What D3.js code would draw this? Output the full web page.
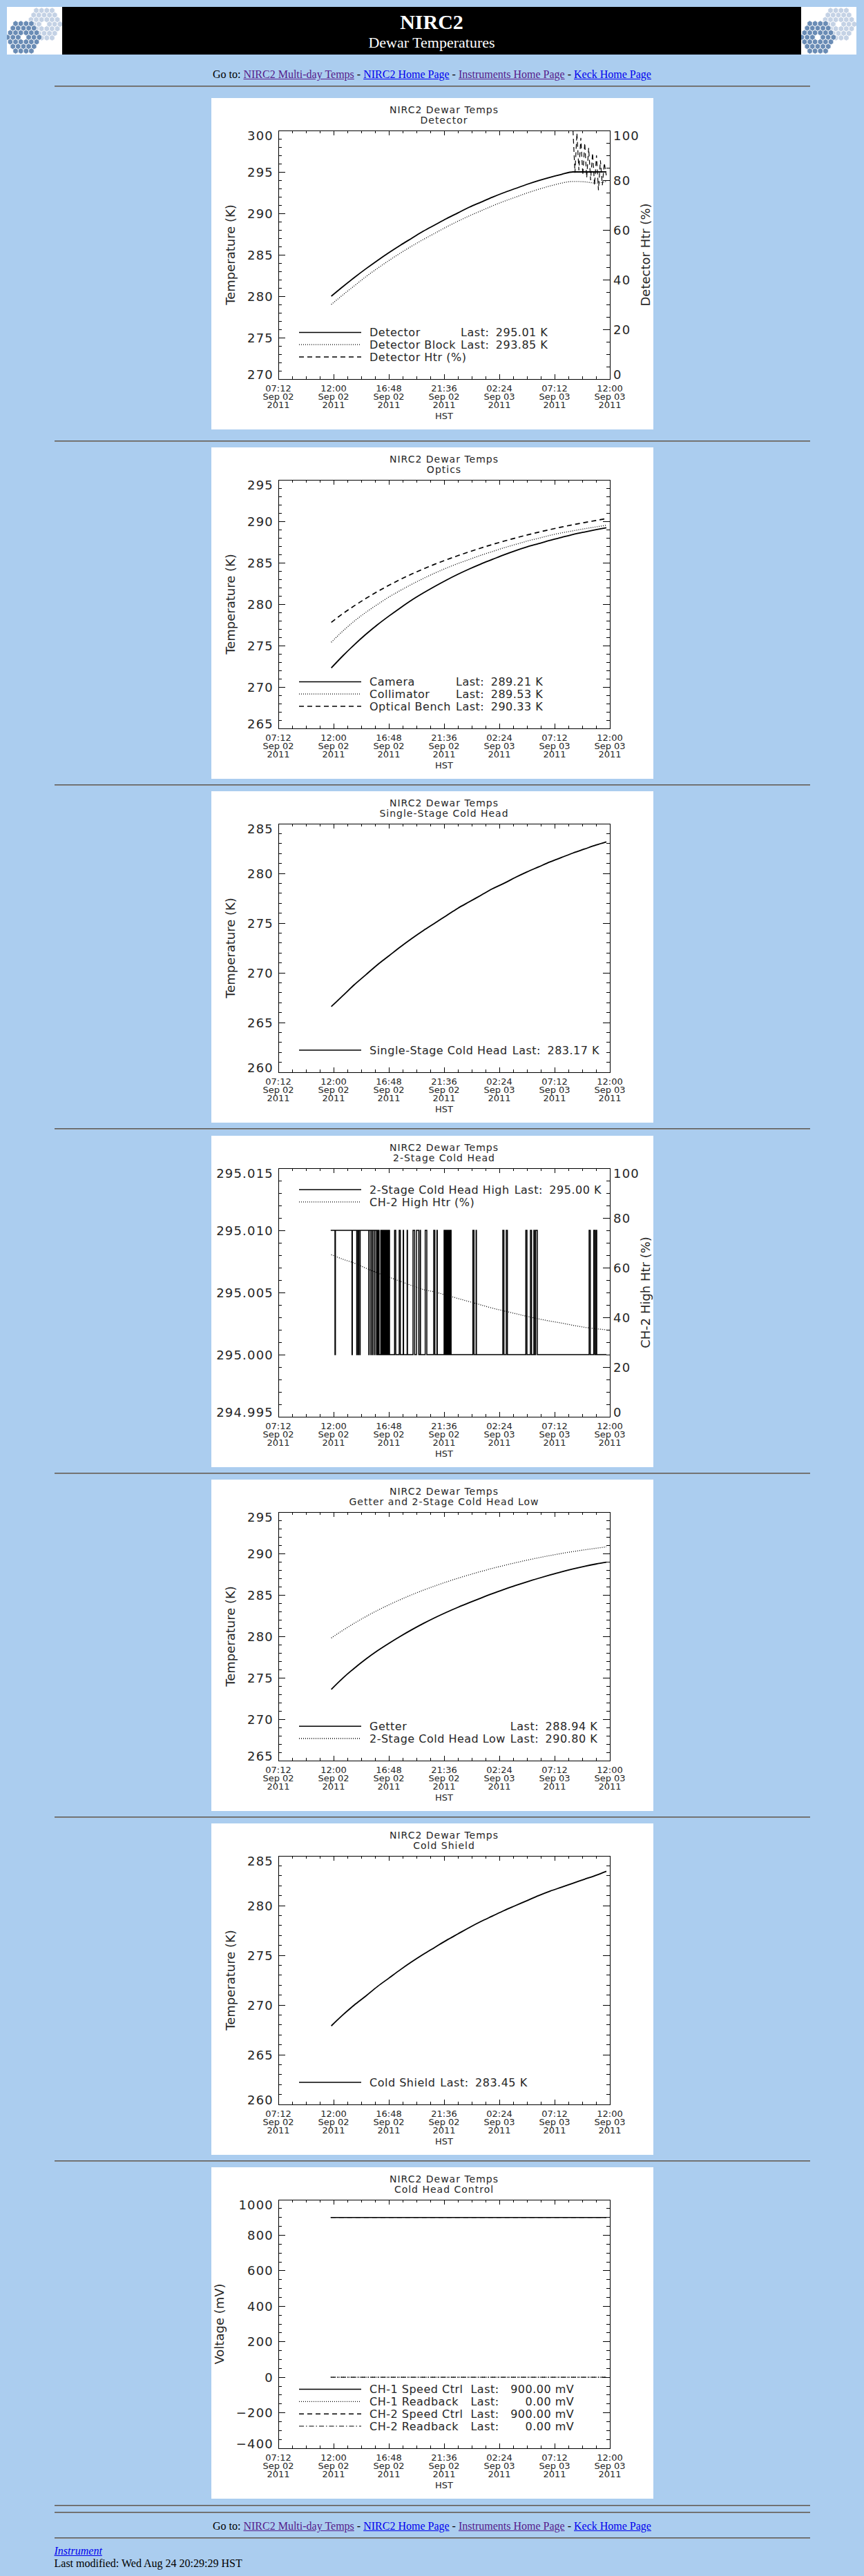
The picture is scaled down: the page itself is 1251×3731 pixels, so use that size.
<!DOCTYPE html>
<html>
<head>
<meta charset="utf-8">
<title>NIRC2 Dewar Temperatures</title>
<script src="https://cdn.jsdelivr.net/npm/d3@7"></script>
<style>
  body { margin: 0; width: 1251px; background: #abcdef; color: #000;
         font-family: "Liberation Serif", "Times New Roman", serif; font-size: 16px; }
  #hdr { margin: 10px 10px 0; height: 69px; display: flex; }
  #hdr svg { display: block; }
  .goto { text-align: center; height: 20px; line-height: 20px; white-space: nowrap; }
  .goto a, #foot a { text-decoration: underline; }
  a.lnk { color: #0000ee; }
  a.vis { color: #551a8b; }
  hr { box-sizing: content-box; width: 1094px; height: 0; border: 0;
       border-top: 1px solid #5c5c5c; border-bottom: 1px solid #8a8a8a; margin: 8.15px auto; }
  svg.panel { display: block; margin: 0 auto; }
  #foot { margin: 9.5px 0 0 78.5px; line-height: 18px; }
</style>
</head>
<body>
<div id="hdr"></div>
<div class="goto" style="margin-top:19px">Go to: <a class="vis" href="#">NIRC2 Multi-day Temps</a> - <a class="lnk" href="#">NIRC2 Home Page</a> - <a class="vis" href="#">Instruments Home Page</a> - <a class="lnk" href="#">Keck Home Page</a></div>
<hr style="margin:6px auto 16px">
<div id="charts"></div>
<hr>
<hr>
<div class="goto" style="margin-top:9.2px">Go to: <a class="vis" href="#">NIRC2 Multi-day Temps</a> - <a class="lnk" href="#">NIRC2 Home Page</a> - <a class="vis" href="#">Instruments Home Page</a> - <a class="lnk" href="#">Keck Home Page</a></div>
<hr style="margin:6px auto 0">
<div id="foot"><a class="lnk" href="#"><i>Instrument</i></a><br>Last modified: Wed Aug 24 20:29:29 HST</div>

<script>
// DATA (hours after 07:12 HST Sep 02 2011)
const sampleHours = [4.6, 5.6, 6.6, 7.6, 8.6, 9.6, 10.6, 11.6, 12.6, 13.6, 14.6, 15.6, 16.6,
                     17.6, 18.6, 19.6, 20.6, 21.6, 22.6, 23.6, 24.6, 25.6, 26.6, 27.6, 28.5];

// Detector
const detector      = [280.0, 281.15, 282.25, 283.3, 284.3, 285.25, 286.15, 287.0, 287.85, 288.6, 289.35, 290.05, 290.75,
                       291.35, 291.95, 292.5, 293.0, 293.5, 293.95, 294.35, 294.7, 295.0, 295.0, 295.0, 295.01];
const detectorBlock = [279.0, 280.15, 281.25, 282.35, 283.35, 284.3, 285.2, 286.05, 286.85, 287.6, 288.35, 289.05, 289.7,
                       290.3, 290.9, 291.45, 291.95, 292.45, 292.9, 293.3, 293.65, 293.85, 293.8, 293.65, 293.85];
const htrHours    = [25.60, 25.77, 25.94, 26.11, 26.28, 26.45, 26.62, 26.79, 26.96,
                     27.13, 27.30, 27.47, 27.64, 27.81, 27.98, 28.15, 28.32, 28.49];
const detectorHtr = [100, 83, 99, 84, 97, 82, 95, 81, 93, 80, 91, 78, 90, 76, 88, 78, 87, 82];

// Optics
const camera       = [272.3, 273.75, 275.1, 276.35, 277.5, 278.55, 279.55, 280.5, 281.35, 282.15, 282.9, 283.6, 284.25,
                      284.85, 285.4, 285.95, 286.45, 286.9, 287.3, 287.7, 288.05, 288.4, 288.7, 288.98, 289.21];
const collimator   = [275.4, 276.75, 277.95, 279.0, 279.95, 280.85, 281.65, 282.4, 283.1, 283.75, 284.35, 284.9, 285.4,
                      285.9, 286.35, 286.8, 287.2, 287.6, 287.95, 288.3, 288.6, 288.85, 289.1, 289.32, 289.53];
const opticalBench = [277.8, 278.85, 279.8, 280.68, 281.5, 282.27, 282.98, 283.64, 284.25, 284.82, 285.35, 285.85, 286.32,
                      286.77, 287.2, 287.6, 287.98, 288.34, 288.68, 289.0, 289.3, 289.58, 289.85, 290.1, 290.33];

// Single-stage cold head
const singleStage = [266.6, 267.7, 268.8, 269.8, 270.8, 271.7, 272.6, 273.45, 274.25, 275.0, 275.75, 276.5, 277.15,
                     277.8, 278.45, 279.0, 279.6, 280.15, 280.65, 281.15, 281.6, 282.05, 282.45, 282.85, 283.17];

// 2-stage cold head high: reading toggles between two levels at these times
const ch2HighSpan   = [4.55, 28.5];
const ch2HighLevels = [295.010, 295.000];
const ch2HighFlips  = [4.92, 4.96, 6.40, 6.43, 6.81, 6.84, 6.94, 6.97, 7.08, 7.11, 7.86, 7.89, 8.04, 8.07,
                       8.19, 8.22, 8.36, 8.39, 8.53, 8.56, 8.64, 8.67,
                       8.75,
                       8.90, 8.93, 9.00, 9.03, 9.08, 9.11, 9.16, 9.19, 9.24, 9.27, 9.32, 9.35, 9.40, 9.43,
                       9.48, 9.51, 9.56, 9.59, 9.63, 9.66,
                       10.10, 10.20, 10.50, 10.60, 10.85, 10.88, 11.19, 11.22, 11.70, 11.84, 12.00, 12.20,
                       12.32, 12.35, 12.76, 12.90, 13.50, 13.60, 13.78, 13.81,
                       14.40, 14.45, 14.52, 14.57, 14.64, 14.69, 14.76, 14.81, 14.88, 14.93, 14.96, 15.01,
                       16.90, 17.00, 17.18, 17.21, 19.50, 19.60, 19.80, 19.90, 21.50, 21.60, 21.90, 22.00,
                       22.20, 22.26, 22.36, 22.50,
                       27.00, 27.10, 27.40, 27.50, 27.60, 27.66];
const ch2HighHtr = [65.2, 63.4, 61.8, 59.8, 57.9, 56.2, 54.5, 52.8, 51.2, 50.2, 48.9, 47.6, 46.3,
                    45.0, 43.7, 42.6, 41.5, 40.4, 39.4, 38.5, 37.7, 36.8, 36.0, 35.4, 35.0];

// Getter and 2-stage cold head low
const getter = [273.6, 274.95, 276.15, 277.25, 278.25, 279.15, 280.0, 280.8, 281.55, 282.25, 282.9, 283.5, 284.07,
                284.62, 285.15, 285.65, 286.13, 286.58, 287.0, 287.4, 287.78, 288.13, 288.45, 288.73, 288.94];
const ch2Low = [279.8, 280.72, 281.58, 282.38, 283.12, 283.8, 284.43, 285.02, 285.57, 286.08, 286.56, 287.01, 287.43,
                287.83, 288.2, 288.55, 288.88, 289.19, 289.48, 289.75, 290.0, 290.23, 290.44, 290.63, 290.8];

// Cold shield
const coldShield = [267.9, 269.0, 270.0, 270.9, 271.85, 272.7, 273.55, 274.35, 275.1, 275.8, 276.5, 277.15, 277.8,
                    278.4, 278.95, 279.5, 280.0, 280.5, 281.0, 281.45, 281.85, 282.25, 282.65, 283.05, 283.45];

// Cold head control (mV)
const ctrlHours   = [4.55, 28.5];
const ch1Speed    = [900, 900];
const ch1Readback = [0, 0];
const ch2Speed    = [900, 900];
const ch2Readback = [0, 0];

// x axis: 07:12 Sep 02 to 12:00 Sep 03, labels every 288 min, minor every 72 min
const xStart = new Date(2011, 8, 2, 7, 12);
const xEnd   = new Date(2011, 8, 3, 12, 0);
const xLabelFormats = ['%H:%M', '%b %d', '%Y'];


// LAYOUT + STYLE
const PL = 97, PR = 577, PT = 47, PB = 407;
const FONT = '"DejaVu Sans", Verdana, sans-serif';
const INK = '#262626';
const STYLES = {
  solid:   { w: 1.8, dash: null },
  dotted:  { w: 1.3, dash: '1 2' },
  dashed:  { w: 1.7, dash: '7 5' },
  dashdot: { w: 1.1, dash: '7 3 1.5 3' }
};

const zip = (xs, ys) => xs.map((h, i) => [h, ys[i]]);
const atHour = h => new Date(+xStart + h * 3600e3);

function stepPoints(span, levels, flips) {
  let k = 0;
  const pts = [[span[0], levels[0]]];
  flips.forEach(t => {
    pts.push([t, levels[k]]);
    k = 1 - k;
    pts.push([t, levels[k]]);
  });
  pts.push([span[1], levels[k]]);
  return pts;
}

function stepTicks(domain, step) {
  const n = Math.round((domain[1] - domain[0]) / step);
  return d3.range(n + 1).map(i => +(domain[0] + i * step).toFixed(6));
}

function styleLine(sel, style) {
  const s = STYLES[style];
  sel.attr('fill', 'none').attr('stroke', '#000').attr('stroke-width', s.w);
  if (s.dash) sel.attr('stroke-dasharray', s.dash);
  return sel;
}

// one y axis: ticks inward, labels outside; returns width of widest label
function yAxis(g, scale, opt, side, withLabels) {
  const major = stepTicks(scale.domain(), opt.step);
  const minor = stepTicks(scale.domain(), opt.step / opt.minor)
    .filter(v => !major.some(m => Math.abs(m - v) < 1e-9));
  const x0 = side === 'left' ? PL : PR;
  const dir = side === 'left' ? 1 : -1;
  const ax = g.append('g').attr('stroke', '#000').attr('stroke-width', 1).attr('shape-rendering', 'crispEdges');

  ax.selectAll(null).data(major).enter().append('line')
    .attr('x1', x0).attr('x2', x0 + dir * 9.6)
    .attr('y1', d => scale(d)).attr('y2', d => scale(d));
  ax.selectAll(null).data(minor).enter().append('line')
    .attr('x1', x0).attr('x2', x0 + dir * 4.8)
    .attr('y1', d => scale(d)).attr('y2', d => scale(d));

  if (!withLabels) return 0;
  const labels = g.append('g')
    .style('font-family', FONT).style('font-size', '18px').style('letter-spacing', '1.2px')
    .attr('fill', INK)
    .attr('text-anchor', side === 'left' ? 'end' : 'start');
  labels.selectAll(null).data(major).enter().append('text')
    .attr('x', side === 'left' ? PL - 7 : PR + 5)
    .attr('y', d => Math.max(PT + 7, Math.min(PB - 6.5, scale(d))) + 6.5)
    .text(d => opt.format(d));
  let w = 0;
  labels.selectAll('text').each(function() { w = Math.max(w, this.getComputedTextLength()); });
  return w;
}

function drawChart(cfg) {
  const svg = d3.select('#charts').append('svg')
    .attr('class', 'panel').attr('width', 640).attr('height', 480);
  svg.append('rect').attr('width', 640).attr('height', 480).attr('fill', '#fff');

  const x = d3.scaleTime().domain([xStart, xEnd]).range([PL, PR]);
  const y = d3.scaleLinear().domain(cfg.y.domain).range([PB, PT]);
  const y2 = cfg.right ? d3.scaleLinear().domain(cfg.right.domain).range([PB, PT]) : null;

  // TITLE
  const title = svg.append('g')
    .style('font-family', FONT).style('font-size', '14px').style('letter-spacing', '1px')
    .attr('fill', INK).attr('text-anchor', 'middle');
  title.append('text').attr('x', (PL + PR) / 2).attr('y', 22).text('NIRC2 Dewar Temps');
  title.append('text').attr('x', (PL + PR) / 2).attr('y', 37).text(cfg.title);

  // PLOT BOX
  svg.append('rect')
    .attr('x', PL).attr('y', PT).attr('width', PR - PL).attr('height', PB - PT)
    .attr('fill', 'none').attr('stroke', '#000').attr('shape-rendering', 'crispEdges');

  // X AXIS (bottom + top)
  const majorX = d3.range(7).map(i => d3.timeMinute.offset(xStart, 288 * i));
  const minorX = d3.range(25).filter(i => i % 4).map(i => d3.timeMinute.offset(xStart, 72 * i));
  const xt = svg.append('g').attr('stroke', '#000').attr('shape-rendering', 'crispEdges');
  [[PB, -1], [PT, 1]].forEach(([y0, dir]) => {
    xt.selectAll(null).data(majorX).enter().append('line')
      .attr('x1', d => x(d)).attr('x2', d => x(d))
      .attr('y1', y0).attr('y2', y0 + dir * 7.2);
    xt.selectAll(null).data(minorX).enter().append('line')
      .attr('x1', d => x(d)).attr('x2', d => x(d))
      .attr('y1', y0).attr('y2', y0 + dir * 3.6);
  });
  const xl = svg.append('g')
    .style('font-family', FONT).style('font-size', '13px')
    .attr('fill', INK).attr('text-anchor', 'middle');
  xLabelFormats.forEach((f, i) => {
    const fmt = d3.timeFormat(f);
    xl.selectAll(null).data(majorX).enter().append('text')
      .attr('x', d => x(d)).attr('y', PB + 18.4 + i * 12)
      .text(d => fmt(d));
  });
  xl.append('text').attr('x', (PL + PR) / 2).attr('y', PB + 58.4).text('HST');

  // Y AXES
  const lw = yAxis(svg, y, cfg.y, 'left', true);
  const rw = cfg.right ? yAxis(svg, y2, cfg.right, 'right', true) : yAxis(svg, y, cfg.y, 'right', false);

  const yTitle = svg.append('g')
    .style('font-family', FONT).style('font-size', '18px')
    .attr('fill', INK).attr('text-anchor', 'middle');
  const lx = PL - 7 - lw - 18;
  // the title goes left of the widest label; when that falls off the image it is not drawn
  if (lx > 14) {
    yTitle.append('text')
      .attr('transform', `translate(${lx},${(PT + PB) / 2}) rotate(-90)`)
      .text(cfg.y.title);
  }
  if (cfg.right) {
    // keep the right title just inside the image edge
    const rx = Math.min(PR + 5 + rw + 19, 635);
    yTitle.append('text')
      .attr('transform', `translate(${rx},${(PT + PB) / 2}) rotate(-90)`)
      .text(cfg.right.title);
  }

  // DATA
  const plot = svg.append('g');
  cfg.series.forEach(s => {
    const ys = s.axis === 'right' ? y2 : y;
    const line = d3.line()
      .x(d => x(atHour(d[0])))
      .y(d => ys(d[1]))
      .curve(s.step ? d3.curveLinear : d3.curveMonotoneX);
    styleLine(plot.append('path').attr('d', line(s.points)), s.style)
      .attr('stroke-width', s.width || STYLES[s.style].w);
  });

  // LEGEND
  const rowH = 17.8;
  const rows = cfg.legend.rows;
  const y0 = cfg.legend.pos === 'top' ? PT + 31 : PB - 32 - (rows.length - 1) * rowH;
  const leg = svg.append('g');
  const txt = leg.append('g')
    .style('font-family', FONT).style('font-size', '16px').style('letter-spacing', '0.5px')
    .attr('fill', INK);
  const measure = s => {
    const t = txt.append('text').text(s);
    const w = t.node().getComputedTextLength();
    t.remove();
    return w;
  };
  const withLast = rows.filter(r => r.last != null);
  const valueText = r => d3.format('.2f')(r.last) + ' ' + cfg.legend.unit;
  const lastX = 229 + (d3.max(withLast, r => measure(r.name)) || 0) + (cfg.legend.nameGap || 7);
  const valRight = lastX + measure('Last:') + (cfg.legend.valGap || 9.5) + (d3.max(withLast, r => measure(valueText(r))) || 0);

  rows.forEach((r, i) => {
    const yy = y0 + i * rowH;
    styleLine(leg.append('line').attr('x1', 127).attr('x2', 217).attr('y1', yy).attr('y2', yy), r.style)
      .attr('stroke-width', Math.min(STYLES[r.style].w, 1.5));
    txt.append('text').attr('x', 229).attr('y', yy + 5.8).text(r.name);
    if (r.last != null) {
      txt.append('text').attr('x', lastX).attr('y', yy + 5.8).text('Last:');
      txt.append('text').attr('x', valRight).attr('y', yy + 5.8)
        .attr('text-anchor', 'end').text(valueText(r));
    }
  });
}


// HEADER: two Keck logos around the black title bar
function drawLogo(sel) {
  const svg = sel.append('svg').attr('width', 80).attr('height', 69);
  svg.append('rect').attr('width', 80).attr('height', 69).attr('fill', '#fff');
  const r = 4.4, w = Math.sqrt(3) * r;
  const cells = [];
  for (let q = -3; q <= 3; q++) {
    for (let s = -3; s <= 3; s++) {
      if (Math.abs(q + s) <= 3 && (q || s)) cells.push([q, s]);
    }
  }
  const hex = d3.range(6).map(i => {
    const a = Math.PI / 180 * (60 * i - 90);
    return [r * Math.cos(a), r * Math.sin(a)];
  });
  [[54, 25, '#c4d2e5'], [24, 44, '#6a8cb5']].forEach(([cx, cy, col]) => {
    svg.append('g').selectAll(null).data(cells).enter().append('path')
      .attr('d', d => 'M' + hex.map(p => [cx + w * (d[0] + d[1] / 2) + p[0], cy + 1.5 * r * d[1] + p[1]].join(',')).join('L') + 'Z')
      .attr('fill', col).attr('stroke', '#fff').attr('stroke-width', 0.9);
  });
}

const hdr = d3.select('#hdr');
drawLogo(hdr);
const bar = hdr.append('svg').attr('width', 1070).attr('height', 69);
bar.append('rect').attr('width', 1070).attr('height', 69).attr('fill', '#000');
bar.append('text').attr('x', 535).attr('y', 32).attr('text-anchor', 'middle')
  .attr('fill', '#fff').style('font-family', '"Liberation Serif", serif')
  .style('font-size', '30px').style('font-weight', 'bold').text('NIRC2');
bar.append('text').attr('x', 535).attr('y', 59).attr('text-anchor', 'middle')
  .attr('fill', '#fff').style('font-family', '"Liberation Serif", serif')
  .style('font-size', '22px').text('Dewar Temperatures');
drawLogo(hdr);


// CHARTS
const kFmt = d3.format('d');
const charts = [
  {
    title: 'Detector',
    y: { domain: [270, 300], step: 5, minor: 5, format: kFmt, title: 'Temperature (K)' },
    right: { domain: [0, 100], step: 20, minor: 4, format: kFmt, title: 'Detector Htr (%)' },
    series: [
      { points: zip(sampleHours, detector), style: 'solid' },
      { points: zip(sampleHours, detectorBlock), style: 'dotted' },
      { points: zip(htrHours, detectorHtr), style: 'dashed', axis: 'right', step: true, width: 1.2 }
    ],
    legend: { pos: 'bottom', unit: 'K', rows: [
      { name: 'Detector', style: 'solid', last: 295.01 },
      { name: 'Detector Block', style: 'dotted', last: 293.85 },
      { name: 'Detector Htr (%)', style: 'dashed' }
    ] }
  },
  {
    title: 'Optics',
    y: { domain: [265, 295], step: 5, minor: 5, format: kFmt, title: 'Temperature (K)' },
    series: [
      { points: zip(sampleHours, camera), style: 'solid' },
      { points: zip(sampleHours, collimator), style: 'dotted' },
      { points: zip(sampleHours, opticalBench), style: 'dashed' }
    ],
    legend: { pos: 'bottom', unit: 'K', rows: [
      { name: 'Camera', style: 'solid', last: 289.21 },
      { name: 'Collimator', style: 'dotted', last: 289.53 },
      { name: 'Optical Bench', style: 'dashed', last: 290.33 }
    ] }
  },
  {
    title: 'Single-Stage Cold Head',
    y: { domain: [260, 285], step: 5, minor: 5, format: kFmt, title: 'Temperature (K)' },
    series: [
      { points: zip(sampleHours, singleStage), style: 'solid' }
    ],
    legend: { pos: 'bottom', unit: 'K', rows: [
      { name: 'Single-Stage Cold Head', style: 'solid', last: 283.17 }
    ] }
  },
  {
    title: '2-Stage Cold Head',
    y: { domain: [294.995, 295.015], step: 0.005, minor: 5, format: d3.format('.3f'), title: 'Temperature (K)' },
    right: { domain: [0, 100], step: 20, minor: 4, format: kFmt, title: 'CH-2 High Htr (%)' },
    series: [
      { points: stepPoints(ch2HighSpan, ch2HighLevels, ch2HighFlips), style: 'solid', step: true, width: 1.5 },
      { points: zip(sampleHours, ch2HighHtr), style: 'dotted', axis: 'right' }
    ],
    legend: { pos: 'top', unit: 'K', rows: [
      { name: '2-Stage Cold Head High', style: 'solid', last: 295.00 },
      { name: 'CH-2 High Htr (%)', style: 'dotted' }
    ] }
  },
  {
    title: 'Getter and 2-Stage Cold Head Low',
    y: { domain: [265, 295], step: 5, minor: 5, format: kFmt, title: 'Temperature (K)' },
    series: [
      { points: zip(sampleHours, getter), style: 'solid' },
      { points: zip(sampleHours, ch2Low), style: 'dotted' }
    ],
    legend: { pos: 'bottom', unit: 'K', rows: [
      { name: 'Getter', style: 'solid', last: 288.94 },
      { name: '2-Stage Cold Head Low', style: 'dotted', last: 290.80 }
    ] }
  },
  {
    title: 'Cold Shield',
    y: { domain: [260, 285], step: 5, minor: 5, format: kFmt, title: 'Temperature (K)' },
    series: [
      { points: zip(sampleHours, coldShield), style: 'solid' }
    ],
    legend: { pos: 'bottom', unit: 'K', rows: [
      { name: 'Cold Shield', style: 'solid', last: 283.45 }
    ] }
  },
  {
    title: 'Cold Head Control',
    y: { domain: [-400, 1000], step: 200, minor: 4, format: kFmt, title: 'Voltage (mV)' },
    series: [
      { points: zip(ctrlHours, ch1Speed), style: 'solid', width: 1.5 },
      { points: zip(ctrlHours, ch1Readback), style: 'dotted' },
      { points: zip(ctrlHours, ch2Speed), style: 'dashed', width: 1.2 },
      { points: zip(ctrlHours, ch2Readback), style: 'dashdot' }
    ],
    legend: { pos: 'bottom', unit: 'mV', nameGap: 11, valGap: 16.5, rows: [
      { name: 'CH-1 Speed Ctrl', style: 'solid', last: 900.00 },
      { name: 'CH-1 Readback', style: 'dotted', last: 0.00 },
      { name: 'CH-2 Speed Ctrl', style: 'dashed', last: 900.00 },
      { name: 'CH-2 Readback', style: 'dashdot', last: 0.00 }
    ] }
  }
];

charts.forEach((c, i) => {
  if (i > 0) {
    d3.select('#charts').append('hr').style('margin', i === 1 ? '16px auto 8px' : null);
  }
  drawChart(c);
});
</script>
</body>
</html>
